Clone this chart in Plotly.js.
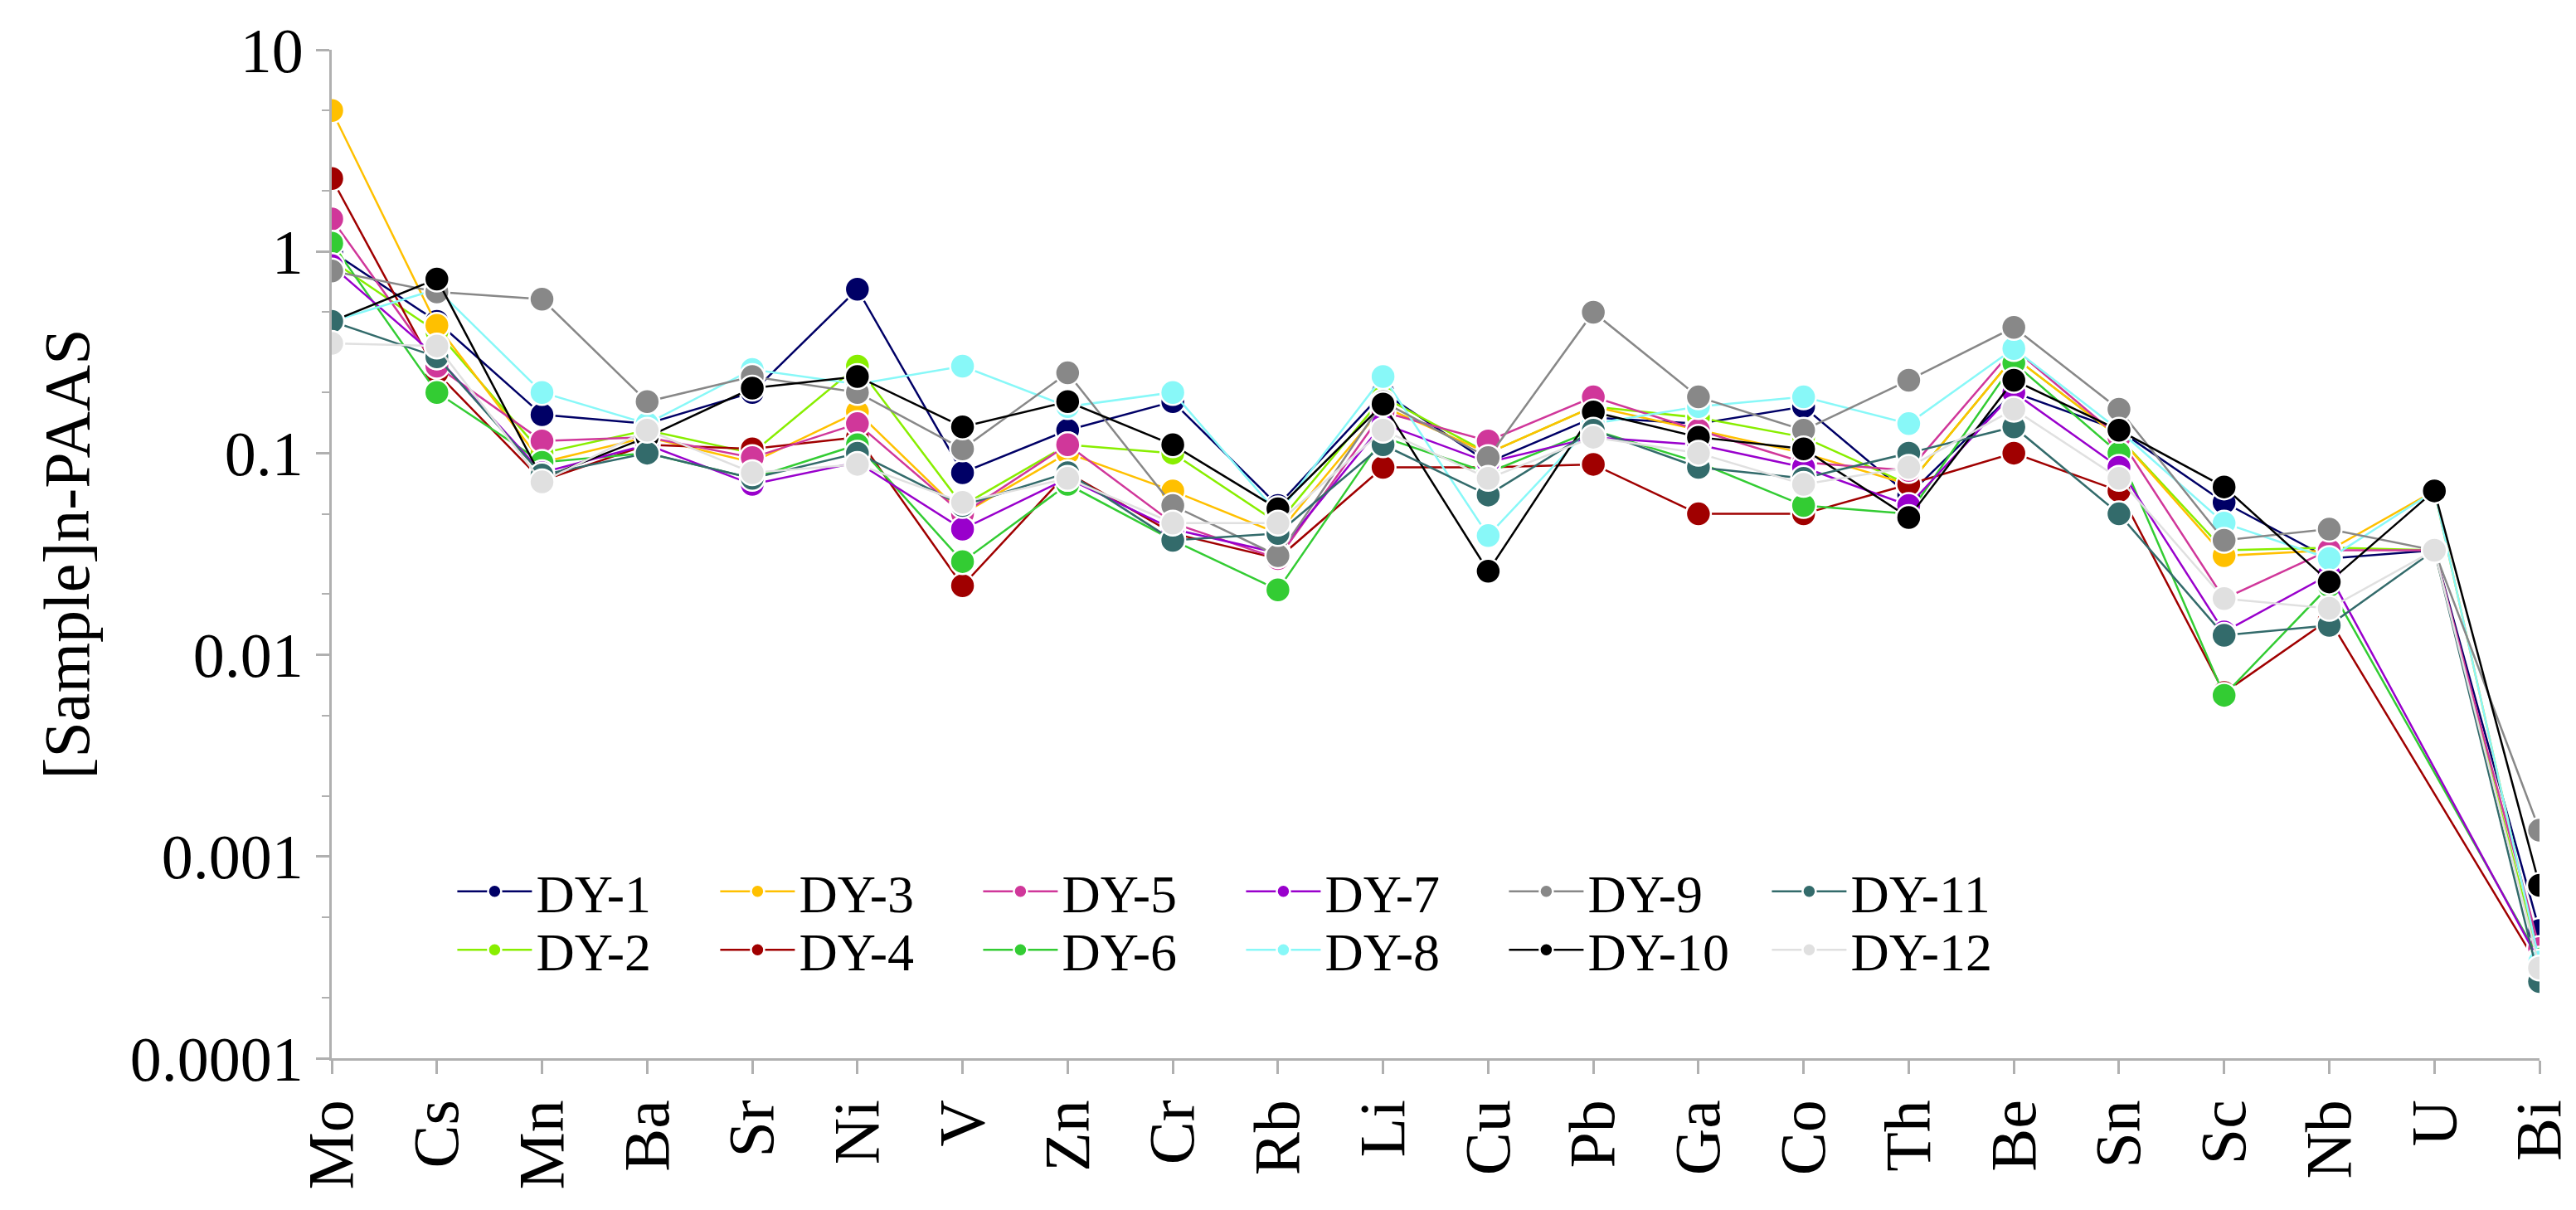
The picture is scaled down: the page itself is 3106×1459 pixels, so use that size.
<!DOCTYPE html>
<html><head><meta charset="utf-8">
<script src="https://cdn.plot.ly/plotly-3.0.1.min.js"></script>
<style>body{margin:0;background:#fff}</style></head>
<body><div id="chart" style="width:3106px;height:1459px"></div>
<script>
const elements = ["Mo","Cs","Mn","Ba","Sr","Ni","V","Zn","Cr","Rb","Li","Cu","Pb","Ga","Co","Th","Be","Sn","Sc","Nb","U","Bi"];
const DY1  = [1.0,0.45,0.155,0.14,0.2,0.65,0.08,0.13,0.18,0.055,0.2,0.09,0.15,0.14,0.17,0.062,0.2,0.13,0.057,0.03,0.033,0.00043];
const DY2  = [0.9,0.4,0.1,0.13,0.1,0.27,0.055,0.11,0.1,0.045,0.19,0.1,0.17,0.15,0.12,0.07,0.3,0.12,0.033,0.034,0.033,0.0003];
const DY3  = [5.0,0.43,0.09,0.12,0.09,0.16,0.05,0.1,0.065,0.04,0.17,0.1,0.17,0.13,0.1,0.07,0.3,0.12,0.031,0.033,0.065,0.0003];
const DY4  = [2.3,0.25,0.073,0.11,0.105,0.12,0.022,0.08,0.04,0.03,0.085,0.085,0.088,0.05,0.05,0.07,0.1,0.065,0.0065,0.015,null,0.00028];
const DY5  = [1.45,0.27,0.115,0.12,0.095,0.14,0.05,0.11,0.045,0.03,0.16,0.115,0.19,0.13,0.09,0.082,0.33,0.12,0.019,0.033,0.033,0.00035];
const DY6  = [1.1,0.2,0.09,0.1,0.075,0.11,0.029,0.07,0.037,0.021,0.12,0.08,0.13,0.09,0.055,0.05,0.28,0.1,0.0063,0.022,null,0.00031];
const DY7  = [0.85,0.3,0.08,0.11,0.07,0.09,0.042,0.075,0.042,0.032,0.14,0.09,0.12,0.11,0.085,0.055,0.2,0.085,0.013,0.025,null,0.0003];
const DY8  = [0.45,0.65,0.2,0.14,0.26,0.22,0.27,0.17,0.2,0.05,0.24,0.039,0.14,0.17,0.19,0.14,0.33,0.13,0.045,0.03,0.065,0.0003];
const DY9  = [0.8,0.63,0.58,0.18,0.24,0.2,0.105,0.25,0.055,0.031,0.18,0.095,0.5,0.19,0.13,0.23,0.42,0.165,0.037,0.042,0.033,0.00135];
const DY10 = [0.45,0.73,0.075,0.12,0.21,0.24,0.135,0.18,0.11,0.053,0.175,0.026,0.16,0.12,0.105,0.048,0.23,0.13,0.068,0.023,0.065,0.00072];
const DY11 = [0.45,0.3,0.078,0.1,0.075,0.1,0.055,0.08,0.037,0.04,0.11,0.062,0.13,0.085,0.075,0.1,0.135,0.05,0.0125,0.014,0.033,0.00024];
const DY12 = [0.35,0.34,0.072,0.13,0.08,0.088,0.057,0.075,0.045,0.045,0.13,0.075,0.12,0.1,0.07,0.085,0.165,0.075,0.019,0.017,0.033,0.00028];
const names = ["DY-1","DY-2","DY-3","DY-4","DY-5","DY-6","DY-7","DY-8","DY-9","DY-10","DY-11","DY-12"];
const series = [DY1,DY2,DY3,DY4,DY5,DY6,DY7,DY8,DY9,DY10,DY11,DY12];
const colors = ["#000066","#88ee00","#ffc000","#a00000","#d0379a","#33cc33","#9900cc","#88f8f8","#888888","#000000","#336b6b","#e0e0e0"];
const yTicks = [0.0001,0.001,0.01,0.1,1,10];
const yTickText = ["0.0001","0.001","0.01","0.1","1","10"];
const traces = series.map((s,i)=>({
  x: elements, y: s, name: names[i], type:'scatter', mode:'lines+markers', connectgaps:true,
  line:{color:colors[i], width:2.5},
  marker:{color:colors[i], size:30, line:{color:'#fff', width:2.5}},
  legend: i%2===0 ? 'legend' : 'legend2'
}));
const font = {family:'"Liberation Serif", "Times New Roman", serif', color:'#000'};
const legBase = {orientation:'h', x:0.055, xanchor:'left', yanchor:'top', entrywidth:212, entrywidthmode:'pixels', font:Object.assign({size:64},font), bgcolor:'rgba(0,0,0,0)', traceorder:'normal', itemwidth:90, tracegroupgap:0};
Plotly.newPlot('chart', traces, {
  width:3106, height:1459,
  margin:{l:400, r:44, t:60, b:183},
  paper_bgcolor:'#fff', plot_bgcolor:'#fff',
  font: Object.assign({size:60}, font),
  showlegend:true,
  legend:Object.assign({y:0.205}, legBase),
  legend2:Object.assign({y:0.147}, legBase),
  xaxis:{type:'category', range:[0,21], showline:true, linecolor:'#b0b0b0', linewidth:3, ticks:'outside', ticklen:16, tickcolor:'#b0b0b0', tickwidth:3, tickangle:-90, tickfont:Object.assign({size:78},font), showgrid:false, zeroline:false},
  yaxis:{type:'log', range:[-4,1], showline:true, linecolor:'#b0b0b0', linewidth:3, ticks:'outside', ticklen:16, tickcolor:'#b0b0b0', tickwidth:3, tickvals:yTicks, ticktext:yTickText, tickfont:Object.assign({size:76},font), showgrid:false, zeroline:false,
    minor:{ticks:'outside', ticklen:9, tickcolor:'#b0b0b0', tickwidth:2, showgrid:false},
    title:{text:'[Sample]n-PAAS', font:Object.assign({size:78},font), standoff:24}}
}, {displayModeBar:false});
</script></body></html>
